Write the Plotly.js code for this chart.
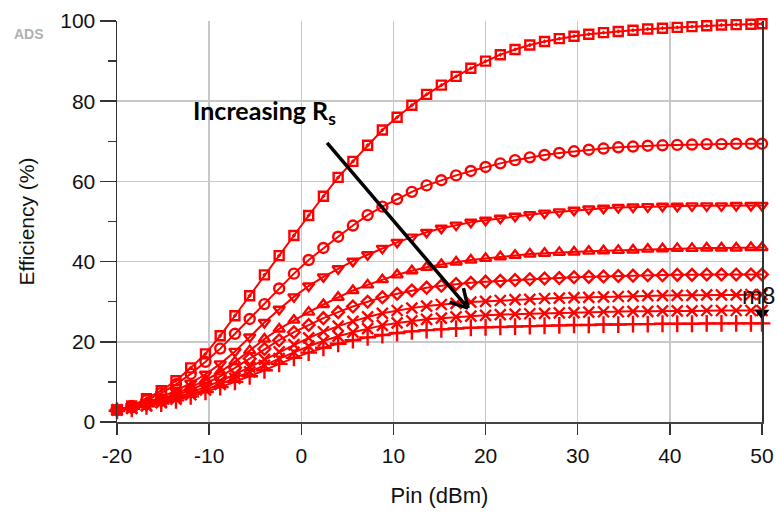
<!DOCTYPE html>
<html>
<head>
<meta charset="utf-8">
<script src="https://cdn.plot.ly/plotly-3.0.1.min.js"></script>
<style>html,body{margin:0;padding:0;background:#fff;}#chart{width:778px;height:518px;}</style>
</head>
<body>
<div id="chart"></div>
<script>
const pin = [-20, -18.4, -16.8, -15.2, -13.6, -12, -10.4, -8.8, -7.2, -5.6, -4, -2.4, -0.8, 0.8, 2.4, 4, 5.6, 7.2, 8.8, 10.4, 12, 13.6, 15.2, 16.8, 18.4, 20, 21.6, 23.2, 24.8, 26.4, 28, 29.6, 31.2, 32.8, 34.4, 36, 37.6, 39.2, 40.8, 42.4, 44, 45.6, 47.2, 48.8, 50];

const effRs1 = [3.0, 4.0, 5.8, 7.8, 10.3, 13.5, 17.0, 21.5, 26.5, 31.5, 36.7, 41.5, 46.5, 51.5, 56.3, 61.0, 65.0, 69.0, 72.8, 76.0, 79.0, 81.7, 84.0, 86.2, 88.2, 90.0, 91.6, 92.9, 94.0, 94.9, 95.6, 96.2, 96.7, 97.1, 97.4, 97.7, 98.0, 98.2, 98.4, 98.6, 98.8, 99.0, 99.1, 99.2, 99.3];
const effRs2 = [3.0, 4.0, 5.4, 7.2, 9.4, 12.0, 15.0, 18.3, 22.0, 25.7, 29.4, 33.3, 37.0, 40.4, 43.4, 46.2, 49.0, 51.6, 53.7, 55.6, 57.4, 59.0, 60.3, 61.5, 62.6, 63.6, 64.5, 65.3, 66.0, 66.6, 67.1, 67.5, 67.9, 68.2, 68.5, 68.7, 68.9, 69.0, 69.1, 69.2, 69.3, 69.3, 69.4, 69.4, 69.4];
const effRs3 = [3.0, 3.8, 4.9, 6.2, 7.8, 9.7, 11.9, 14.5, 17.6, 21.2, 24.8, 28.1, 31.2, 33.9, 36.2, 38.2, 40.1, 41.7, 43.3, 44.8, 46.1, 47.3, 48.3, 49.1, 49.8, 50.3, 50.8, 51.3, 51.7, 52.1, 52.4, 52.8, 53.1, 53.3, 53.5, 53.6, 53.7, 53.8, 53.8, 53.9, 53.9, 53.9, 54.0, 54.0, 54.0];
const effRs4 = [3.0, 3.7, 4.6, 5.7, 7.0, 8.6, 10.4, 12.5, 15.0, 17.8, 20.7, 23.2, 25.4, 27.4, 29.3, 31.1, 32.8, 34.2, 35.5, 36.7, 37.7, 38.6, 39.3, 39.9, 40.4, 40.8, 41.2, 41.6, 41.9, 42.1, 42.3, 42.4, 42.6, 42.7, 42.8, 42.9, 43.1, 43.2, 43.3, 43.3, 43.4, 43.4, 43.4, 43.5, 43.5];
const effRs5 = [3.0, 3.6, 4.4, 5.4, 6.6, 8.0, 9.6, 11.4, 13.5, 15.8, 18.2, 20.4, 22.4, 24.2, 25.9, 27.4, 28.8, 30.0, 31.1, 32.0, 32.8, 33.5, 34.0, 34.4, 34.7, 35.0, 35.2, 35.4, 35.6, 35.8, 35.9, 36.1, 36.2, 36.3, 36.4, 36.5, 36.6, 36.6, 36.7, 36.7, 36.8, 36.8, 36.8, 36.8, 36.8];
const effRs6 = [3.0, 3.5, 4.2, 5.1, 6.1, 7.3, 8.7, 10.2, 11.9, 13.7, 15.6, 17.5, 19.3, 21.0, 22.5, 23.9, 25.1, 26.2, 27.1, 27.8, 28.4, 28.9, 29.3, 29.6, 29.9, 30.1, 30.3, 30.5, 30.6, 30.8, 30.9, 31.0, 31.1, 31.2, 31.3, 31.4, 31.5, 31.5, 31.6, 31.6, 31.7, 31.7, 31.7, 31.8, 31.8];
const effRs7 = [3.0, 3.4, 4.0, 4.8, 5.7, 6.8, 8.0, 9.4, 10.9, 12.5, 14.1, 15.8, 17.4, 18.9, 20.2, 21.4, 22.4, 23.3, 24.1, 24.7, 25.2, 25.6, 25.9, 26.2, 26.4, 26.6, 26.8, 26.9, 27.0, 27.1, 27.2, 27.3, 27.4, 27.5, 27.5, 27.6, 27.6, 27.7, 27.7, 27.7, 27.8, 27.8, 27.8, 27.8, 27.8];
const effRs8 = [2.8, 3.3, 3.9, 4.6, 5.4, 6.4, 7.5, 8.7, 10.0, 11.4, 12.9, 14.5, 16.0, 17.3, 18.5, 19.5, 20.4, 21.1, 21.7, 22.2, 22.6, 22.9, 23.1, 23.3, 23.5, 23.6, 23.7, 23.8, 23.9, 24.0, 24.1, 24.2, 24.2, 24.3, 24.3, 24.4, 24.4, 24.5, 24.5, 24.5, 24.6, 24.6, 24.6, 24.6, 24.6];

const markerPin = [50, 50];
const markerEff = [101.5, 27.2];

const xTicks = [-20, -10, 0, 10, 20, 30, 40, 50];
const yTicks = [0, 20, 40, 60, 80, 100];

const series = [effRs1, effRs2, effRs3, effRs4, effRs5, effRs6, effRs7, effRs8];
const symbols = ['square-open-dot', 'circle-open', 'triangle-down-open', 'triangle-up-open', 'diamond-open', 'x-thin-open', 'x-thin-open', 'cross-thin-open'];
const sizes = [9, 10, 10, 10, 9, 11, 11, 12];

const traces = series.map((y, i) => ({
  x: pin, y: y, type: 'scatter', mode: 'lines+markers',
  line: {color: '#ff0000', width: 2},
  marker: {symbol: symbols[i], size: sizes[i], color: '#ff0000', line: {color: '#ff0000', width: 2.4}},
  cliponaxis: false, showlegend: false, hoverinfo: 'skip'
}));

traces.push({
  x: markerPin, y: markerEff, type: 'scatter', mode: 'markers',
  marker: {symbol: 'triangle-down', size: 13, color: '#000'},
  cliponaxis: false, showlegend: false, hoverinfo: 'skip'
});

const tickFont = {family: 'Liberation Sans, Arial, sans-serif', size: 21, color: '#111'};

const layout = {
  width: 778, height: 518,
  margin: {l: 117, r: 16, t: 21, b: 96},
  paper_bgcolor: '#fff', plot_bgcolor: '#fff',
  xaxis: {
    range: [-20, 50], tickvals: xTicks, ticktext: xTicks.map(String),
    showgrid: true, gridcolor: '#c8c8c8', gridwidth: 1.5,
    zeroline: false, showline: true, linecolor: '#444', linewidth: 1.5,
    ticks: 'outside', ticklen: 11, tickwidth: 1.5, tickcolor: '#333',
    tickfont: tickFont, ticklabelstandoff: 3,
    title: {text: 'Pin (dBm)', font: {family: 'Liberation Sans, Arial, sans-serif', size: 22, color: '#111'}, standoff: 22}
  },
  yaxis: {
    range: [0, 100], tickvals: yTicks, ticktext: yTicks.map(String),
    showgrid: true, gridcolor: '#c8c8c8', gridwidth: 1.5,
    zeroline: false, showline: true, mirror: true, linecolor: '#333', linewidth: 1.5,
    ticks: 'outside', ticklen: 16, tickwidth: 1.5, tickcolor: '#333',
    minor: {dtick: 10, tick0: 0, ticks: 'outside', ticklen: 8, tickwidth: 1.5, tickcolor: '#333', showgrid: false},
    tickfont: tickFont,
    title: {text: 'Efficiency (%)', font: {family: 'Liberation Sans, Arial, sans-serif', size: 21, color: '#111'}, standoff: 20}
  },
  annotations: [
    {x: -4.0, y: 77.3, xref: 'x', yref: 'y', text: '<b>Increasing R<sub>s</sub></b>', showarrow: false,
     font: {family: 'Lato, Open Sans, sans-serif', size: 25, color: '#000'}},
    {x: (12 - 117) / 645, y: (422 - 34) / 401, xref: 'paper', yref: 'paper', xanchor: 'left', yanchor: 'middle',
     text: '<b>ADS</b>', showarrow: false,
     font: {family: 'Liberation Sans, Arial, sans-serif', size: 14, color: '#b0b0b0'}},
    {x: 47.6, y: 31.6, xref: 'x', yref: 'y', text: 'm8', showarrow: false, xanchor: 'left',
     font: {family: 'Liberation Sans, Arial, sans-serif', size: 24, color: '#111'}}
  ],
  shapes: [
    {type: 'line', xref: 'x', yref: 'y', x0: 2.8, y0: 69.6, x1: 18.1, y1: 28.4, line: {color: '#000', width: 3.5}},
    {type: 'line', xref: 'x', yref: 'y', x0: 16.1, y0: 29.9, x1: 18.1, y1: 28.4, line: {color: '#000', width: 3.5}},
    {type: 'line', xref: 'x', yref: 'y', x0: 17.6, y0: 33.4, x1: 18.1, y1: 28.4, line: {color: '#000', width: 3.5}}
  ]
};

Plotly.newPlot('chart', traces, layout, {staticPlot: true, displayModeBar: false});
</script>
</body>
</html>
